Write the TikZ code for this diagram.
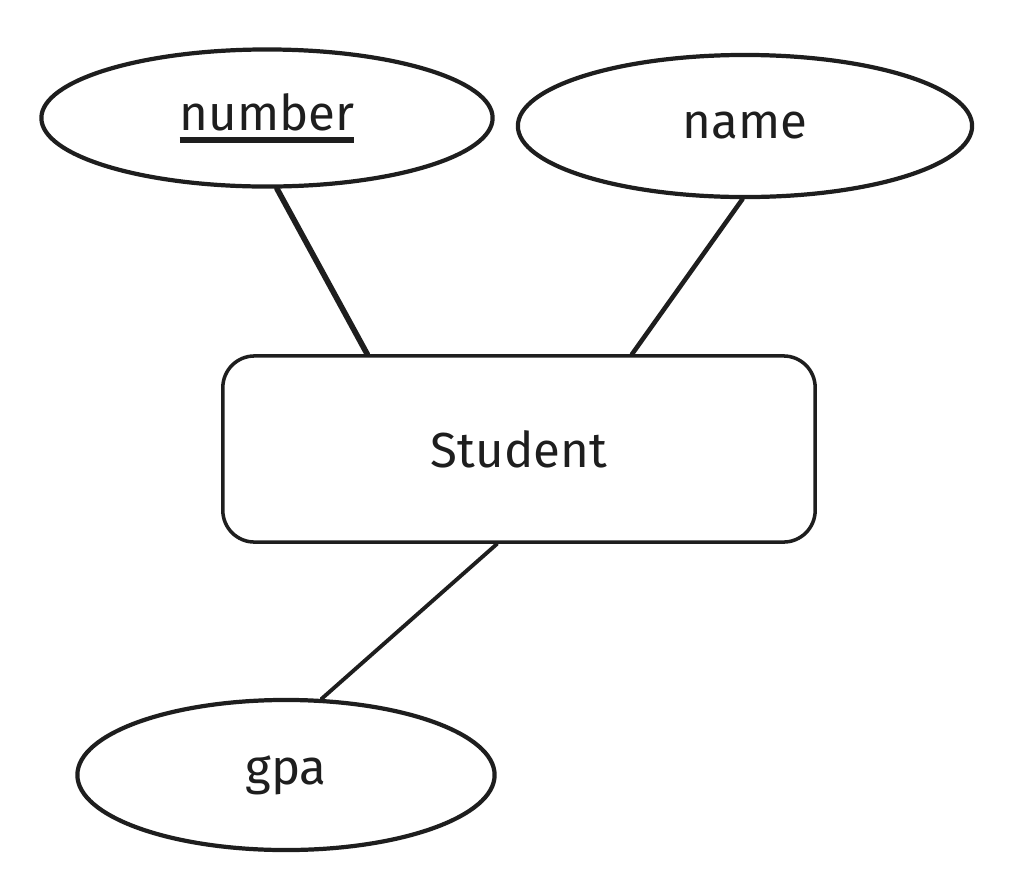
\documentclass[tikz,border=0pt]{standalone}
\usepackage{fontspec}
\setmainfont{Fira Sans}
\usetikzlibrary{shapes.geometric}
\definecolor{ink}{HTML}{1E1E1E}
% thick underline for the key attribute
\newcommand{\pkey}[1]{\setbox0\hbox{#1}\rlap{\raisebox{-3.5pt}{\rule{\wd0}{1.5pt}}}\box0}

\begin{document}
\begin{tikzpicture}[x=0.01cm, y=-0.01cm,
    attr/.style={draw=ink, line width=1.2pt, ellipse, inner sep=0pt, font=\fontsize{14}{16}\selectfont, text=ink},
    entity/.style={draw=ink, line width=1pt, rectangle, rounded corners=9pt, inner sep=0pt, font=\fontsize{14}{16}\selectfont, text=ink},
    link/.style={draw=ink, line cap=round}]
  % page size
  \useasboundingbox (0,0) rectangle (1020,881);

  % attributes and the entity
  \node[attr, minimum width=4.51cm, minimum height=1.37cm] (number) at (267,118) {\pkey{number}};
  \node[attr, minimum width=4.54cm, minimum height=1.42cm] (name) at (745,126) {name};
  \node[entity, minimum width=5.92cm, minimum height=1.86cm] (student) at (519,449) {Student};
  \node[attr, minimum width=4.17cm, minimum height=1.50cm] (gpa) at (286,775) {gpa};

  % connectors
  \draw[link, line width=1.6pt] (number.-82) -- (student.148.5);
  \draw[link, line width=1.3pt] (name.-92) -- (student.40);
  \draw[link, line width=1.1pt] (student.-103.3) -- (gpa.65);
\end{tikzpicture}
\end{document}
